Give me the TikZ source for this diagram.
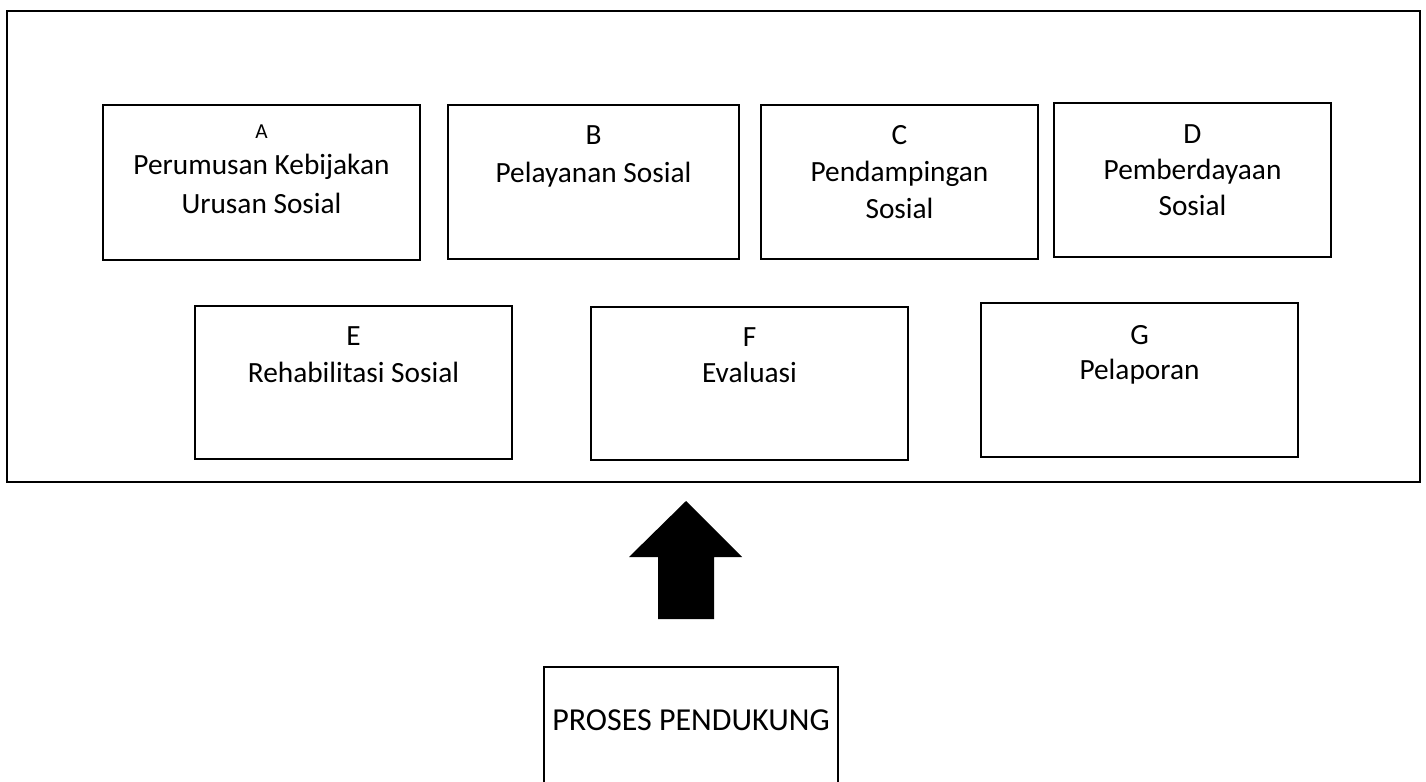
\documentclass[tikz,border=0pt]{standalone}
\usepackage{fontspec}
\setmainfont{Carlito}
\begin{document}
\begin{tikzpicture}[x=0.75pt,y=-0.75pt,
  outerbox/.style={draw=black,line width=2.2pt},
  itembox/.style={draw=black,line width=1.4pt},
  lbl/.style={anchor=base,inner sep=0pt,font=\fontsize{22}{27}\selectfont},
  caplbl/.style={anchor=base,inner sep=0pt,font=\fontsize{24}{29}\selectfont},
  smalllbl/.style={anchor=base,inner sep=0pt,font=\fontsize{16}{19}\selectfont}]
\useasboundingbox (0,0) rectangle (1426,781);
\begin{scope}
\clip (0,0) rectangle (1426,781);
% outer frame
\draw[outerbox] (7,11) rectangle (1420,482);
% boxes
\draw[itembox] (103,105) rectangle (420,260);
\draw[itembox] (448,105) rectangle (739,259);
\draw[itembox] (761,105) rectangle (1038,259);
\draw[itembox] (1054,103) rectangle (1331,257);
\draw[itembox] (195,306) rectangle (512,459);
\draw[itembox] (591,307) rectangle (908,460);
\draw[itembox] (981,303) rectangle (1298,457);
\draw[itembox] (544,800) -- (544,667) -- (838,667) -- (838,800);
% arrow
\fill[black] (686,501) -- (742,557) -- (714,557) -- (714,619) -- (658,619) -- (658,557) -- (629,557) -- cycle;
\end{scope}
% texts
\node[smalllbl] (tA) at (261.5,138) {A};
\node[lbl] (tA1) at (261.5,175) {Perumusan Kebijakan};
\node[lbl] (tA2) at (261.5,213) {Urusan Sosial};
\node[lbl] (tB) at (593.5,145) {B};
\node[lbl] (tB1) at (593.5,182) {Pelayanan Sosial};
\node[lbl] (tC) at (899.5,145) {C};
\node[lbl] (tC1) at (899.5,181) {Pendampingan};
\node[lbl] (tC2) at (899.5,218) {Sosial};
\node[lbl] (tD) at (1192.5,143) {D};
\node[lbl] (tD1) at (1192.5,179) {Pemberdayaan};
\node[lbl] (tD2) at (1192.5,215) {Sosial};
\node[lbl] (tE) at (353.5,345) {E};
\node[lbl] (tE1) at (353.5,382) {Rehabilitasi Sosial};
\node[lbl] (tF) at (749.5,346) {F};
\node[lbl] (tF1) at (749.5,382) {Evaluasi};
\node[lbl] (tG) at (1139.5,344) {G};
\node[lbl] (tG1) at (1139.5,379) {Pelaporan};
\node[caplbl] (tP) at (691,730) {PROSES PENDUKUNG};
\end{tikzpicture}
\end{document}
